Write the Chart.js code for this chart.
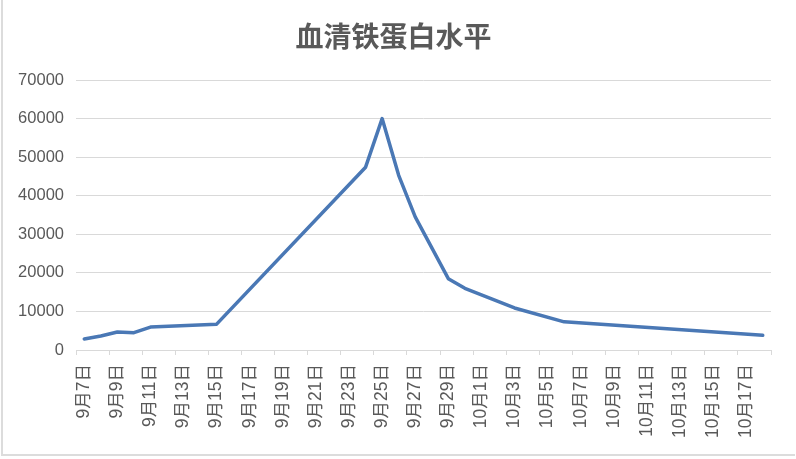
<!DOCTYPE html>
<html lang="zh">
<head>
<meta charset="UTF-8">
<title>血清铁蛋白水平</title>
<style>
  html, body { margin: 0; padding: 0; background: #fff; }
  #wrap { position: relative; width: 796px; height: 459px; }
  #frame { position: absolute; left: 1px; top: 0; width: 794px; height: 456px;
           border-left: 2px solid #dcdcdc; border-bottom: 2px solid #dcdcdc; box-sizing: border-box; pointer-events: none; }
</style>
</head>
<body>
<div id="wrap">
  <canvas id="myChart"></canvas>
  <div id="frame"></div>
</div>

<script src="https://cdn.jsdelivr.net/npm/chart.js"></script>
<script>
// 日期（9月7日 ~ 10月18日）
const days = [
  '9月7日', '9月8日', '9月9日', '9月10日', '9月11日', '9月12日', '9月13日', '9月14日',
  '9月15日', '9月16日', '9月17日', '9月18日', '9月19日', '9月20日', '9月21日', '9月22日',
  '9月23日', '9月24日', '9月25日', '9月26日', '9月27日', '9月28日', '9月29日', '9月30日',
  '10月1日', '10月2日', '10月3日', '10月4日', '10月5日', '10月6日', '10月7日', '10月8日',
  '10月9日', '10月10日', '10月11日', '10月12日', '10月13日', '10月14日', '10月15日', '10月16日',
  '10月17日', '10月18日'
];
// 检测值（没有检测的日期为 null）
const ferritin = [
  2850, 3650, 4650, 4500, 5950, null, null, null,
  6700, null, null, null, null, null, null, null,
  null, 47400, 60000, 45300, 34500, null, 18500, 16000,
  null, null, 10900, null, null, 7300, null, null,
  null, null, null, null, null, null, null, null,
  null, 3800
];
const yTicks = { min: 0, max: 70000, step: 10000 };

const txtColor = '#595959';
const gridColor = '#d9d9d9';
const fontFam = '"Liberation Sans", "Noto Sans CJK SC", sans-serif';

const ctx = document.getElementById('myChart');
new Chart(ctx, {
  type: 'line',
  data: {
    labels: days,
    datasets: [{
      label: '血清铁蛋白',
      data: ferritin,
      borderColor: '#4a78b5',
      borderWidth: 3.5,
      borderJoinStyle: 'round',
      borderCapStyle: 'round',
      pointRadius: 0,
      tension: 0,
      spanGaps: true
    }]
  },
  options: {
    responsive: true,
    maintainAspectRatio: false,
    animation: false,
    layout: { padding: { left: 16, right: 25, top: 0, bottom: 0 } },
    plugins: {
      legend: { display: false },
      tooltip: { enabled: false },
      title: {
        display: true,
        text: '血清铁蛋白水平',
        color: txtColor,
        font: { family: '"Noto Sans CJK SC", sans-serif', size: 28, weight: 'bold', lineHeight: 1.2 },
        padding: { top: 20, bottom: 26.4 }
      }
    },
    scales: {
      x: {
        offset: true,
        grid: {
          offset: true,
          drawOnChartArea: false,
          drawTicks: true,
          tickLength: 5,
          color: c => (c.index === undefined || c.index % 2 === 0) ? gridColor : 'rgba(0,0,0,0)'
        },
        border: { color: gridColor, width: 1 },
        ticks: {
          autoSkip: false,
          maxRotation: 90,
          minRotation: 90,
          padding: 9,
          color: txtColor,
          font: { family: fontFam, size: 17.5 },
          callback: (v, i) => i % 2 === 0 ? days[i] : ''
        },
        afterFit: s => { s.height = 109; }
      },
      y: {
        min: yTicks.min,
        max: yTicks.max,
        grid: { color: gridColor, drawTicks: false },
        border: { display: false },
        ticks: {
          stepSize: yTicks.step,
          padding: 12,
          color: txtColor,
          font: { family: fontFam, size: 16.5 },
          callback: v => String(v)
        },
        afterFit: s => { s.width = 60; }
      }
    }
  }
});
</script>
</body>
</html>
